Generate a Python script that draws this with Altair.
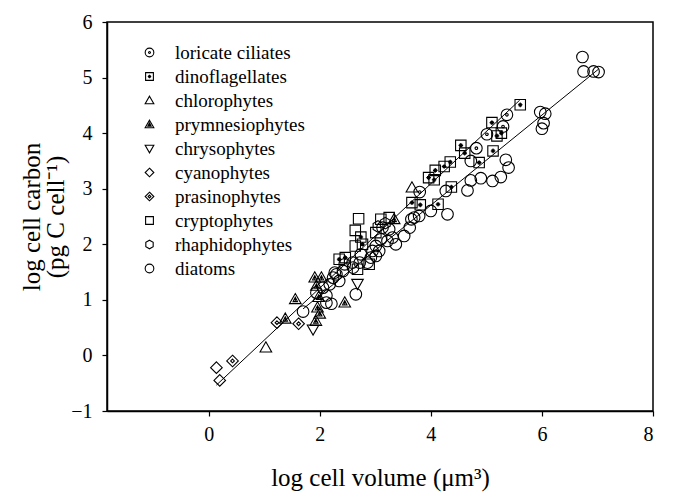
import altair as alt
import pandas as pd

# ---------------- data ----------------
group_names = ["loricate ciliates", "dinoflagellates", "chlorophytes", "prymnesiophytes",
               "chrysophytes", "cyanophytes", "prasinophytes", "cryptophytes",
               "rhaphidophytes", "diatoms"]

ciliate_x = [3.80, 4.82, 5.01, 5.30, 5.37]
ciliate_y = [2.94, 3.73, 3.98, 4.12, 4.33]

dino_x = [2.35, 2.46, 2.74, 2.77, 3.66, 3.81, 4.13, 4.37, 3.96, 4.06, 4.08, 4.24, 4.35,
          4.54, 4.61, 4.87, 5.12, 5.10, 5.19, 5.27, 5.61]
dino_y = [1.73, 1.76, 2.13, 2.00, 2.75, 2.71, 2.72, 3.03, 3.20, 3.16, 3.33, 3.40, 3.48,
          3.78, 3.64, 3.47, 3.68, 4.19, 3.95, 4.00, 4.51]

chloro_x = [1.03, 3.66]
chloro_y = [0.14, 3.02]

prym_x = [1.38, 1.56, 1.91, 2.03, 1.94, 2.45, 1.96, 2.00, 1.93, 3.34, 1.98]
prym_y = [0.66, 1.01, 1.40, 1.40, 1.25, 0.95, 0.86, 0.75, 0.62, 2.45, 1.05]

chryso_x = [1.88, 2.68]
chryso_y = [0.47, 1.29]

cyano_x = [0.14, 0.20]
cyano_y = [-0.22, -0.45]

prasino_x = [0.43, 1.23, 1.62]
prasino_y = [-0.10, 0.59, 0.57]

crypto_x = [2.70, 2.64, 2.64, 3.01, 3.10, 3.25, 2.68, 2.89]
crypto_y = [2.46, 2.25, 1.97, 2.21, 2.45, 2.48, 1.55, 1.64]

rhaphido_x = [3.05, 3.18]
rhaphido_y = [2.32, 2.38]

diatom_x = [1.70, 1.94, 2.06, 2.12, 2.21, 2.12, 2.18, 2.24, 2.30, 2.35, 2.42, 2.45, 2.27,
            2.60, 2.59, 2.65, 2.72, 2.86, 2.74, 2.92, 3.01, 2.95, 3.07, 3.01, 3.10, 3.22,
            3.37, 3.31, 3.13, 3.25, 3.52, 3.62, 3.70, 3.79, 3.65, 4.00, 4.30, 4.27, 4.66,
            4.72, 4.90, 5.11, 5.26, 5.35, 5.40, 4.72, 5.97, 6.06, 6.03, 6.00, 6.73, 6.75,
            6.93, 7.02]
diatom_y = [0.79, 1.13, 1.22, 0.95, 0.93, 1.08, 1.28, 1.40, 1.46, 1.34, 1.52, 1.64, 1.49,
            1.58, 1.67, 1.10, 1.67, 1.67, 1.82, 1.76, 1.79, 1.88, 1.88, 1.97, 2.09, 2.06,
            2.00, 2.12, 2.30, 2.27, 2.15, 2.30, 2.48, 2.51, 2.45, 2.60, 2.54, 2.96, 2.97,
            3.15, 3.19, 3.14, 3.21, 3.52, 3.38, 3.50, 4.38, 4.35, 4.18, 4.08, 5.37, 5.11,
            5.11, 5.10]

# regression lines (log C = a + b log V) and their x extents
line_names = ["protists excluding diatoms", "diatoms"]
line_a = [-0.665, -0.541]
line_b = [0.939, 0.811]
line_x0 = [0.14, 1.70]
line_x1 = [5.60, 7.02]

# ---------------- tables ----------------
series = [(ciliate_x, ciliate_y), (dino_x, dino_y), (chloro_x, chloro_y), (prym_x, prym_y),
          (chryso_x, chryso_y), (cyano_x, cyano_y), (prasino_x, prasino_y),
          (crypto_x, crypto_y), (rhaphido_x, rhaphido_y), (diatom_x, diatom_y)]
rows = []
for name, (xs, ys) in zip(group_names, series):
    for xv, yv in zip(xs, ys):
        rows.append({"group": name, "x": xv, "y": yv})
pts = pd.DataFrame(rows)

lrows = []
for n, a, b, x0, x1 in zip(line_names, line_a, line_b, line_x0, line_x1):
    for xv in (x0, x1):
        lrows.append({"line": n, "x": xv, "y": a + b * xv})
lines = pd.DataFrame(lrows)

# marker glyphs (unit square paths)
circ = "M-1,0A1,1,0,1,1,1,0A1,1,0,1,1,-1,0Z"
dot = "M-0.22,0A0.22,0.22,0,1,1,0.22,0A0.22,0.22,0,1,1,-0.22,0Z"
sq = "M-0.9,-0.9H0.9V0.9H-0.9Z"
plus = "M-0.4,0H0.4M0,-0.4V0.4M-0.18,-0.18H0.18V0.18H-0.18Z"
tri_up = "M0,-1L1,0.75L-1,0.75Z"
tri_in = "M0,-0.35L0.38,0.4L-0.38,0.4Z M0,-0.1V0.4"
tri_dn = "M-1,-0.75L1,-0.75L0,1Z"
dia = "M0,-1L1,0L0,1L-1,0Z"
dia_in = "M0,-0.32L0.32,0L0,0.32L-0.32,0Z"
hexa = "M0,-1L0.85,-0.5L0.85,0.5L0,1L-0.85,0.5L-0.85,-0.5Z"

shape_range = [circ + " " + dot, sq + " " + plus, tri_up, tri_up + " " + tri_in, tri_dn,
               dia, dia + " " + dia_in, sq, hexa, "circle"]

FONT = "Liberation Serif"

xscale = alt.Scale(domain=[-1.83, 8], nice=False, zero=False)
yscale = alt.Scale(domain=[-1, 6], nice=False, zero=False)

xaxis = alt.Axis(values=[0, 2, 4, 6, 8], title="log cell volume (μm³)", labelPadding=8,
                 titlePadding=21, format="d")
yaxis = alt.Axis(values=[-1, 0, 1, 2, 3, 4, 5, 6], title=["log cell carbon", "(pg C cell⁻¹)"],
                 labelPadding=10, titlePadding=2, format="d", titleLineHeight=24)

line_layer = alt.Chart(lines).mark_line(color="black", strokeWidth=1).encode(
    x=alt.X("x:Q", scale=xscale, axis=xaxis),
    y=alt.Y("y:Q", scale=yscale, axis=yaxis),
    detail="line:N",
)

point_layer = alt.Chart(pts).mark_point(filled=False, size=135, strokeWidth=1.1,
                                         color="black", opacity=1).encode(
    x=alt.X("x:Q", scale=xscale, axis=xaxis),
    y=alt.Y("y:Q", scale=yscale, axis=yaxis),
    shape=alt.Shape("group:N", scale=alt.Scale(domain=group_names, range=shape_range),
                    legend=alt.Legend(orient="none", legendX=33, legendY=21, title=None,
                                      labelFont=FONT, labelFontSize=19, labelColor="black",
                                      labelOffset=16, symbolSize=75, symbolStrokeWidth=1.1,
                                      symbolStrokeColor="black", symbolFillColor="transparent",
                                      rowPadding=4, padding=0)),
)

chart = alt.layer(line_layer, point_layer).properties(
    width=546, height=389,
    autosize=alt.AutoSizeParams(type="none"),
    padding={"left": 107, "top": 22, "right": 26, "bottom": 84},
    background="white",
).configure_axis(
    domainColor="black", domainWidth=1.5, tickColor="black", tickSize=5, tickWidth=1.2,
    labelFont=FONT, labelFontSize=20, labelColor="black",
    titleFont=FONT, titleFontSize=25, titleFontWeight="normal", titleColor="black",
    grid=False,
).configure_view(stroke="black", strokeWidth=1.5)

chart.save("out.html", embed_options={"renderer": "svg", "actions": False})
